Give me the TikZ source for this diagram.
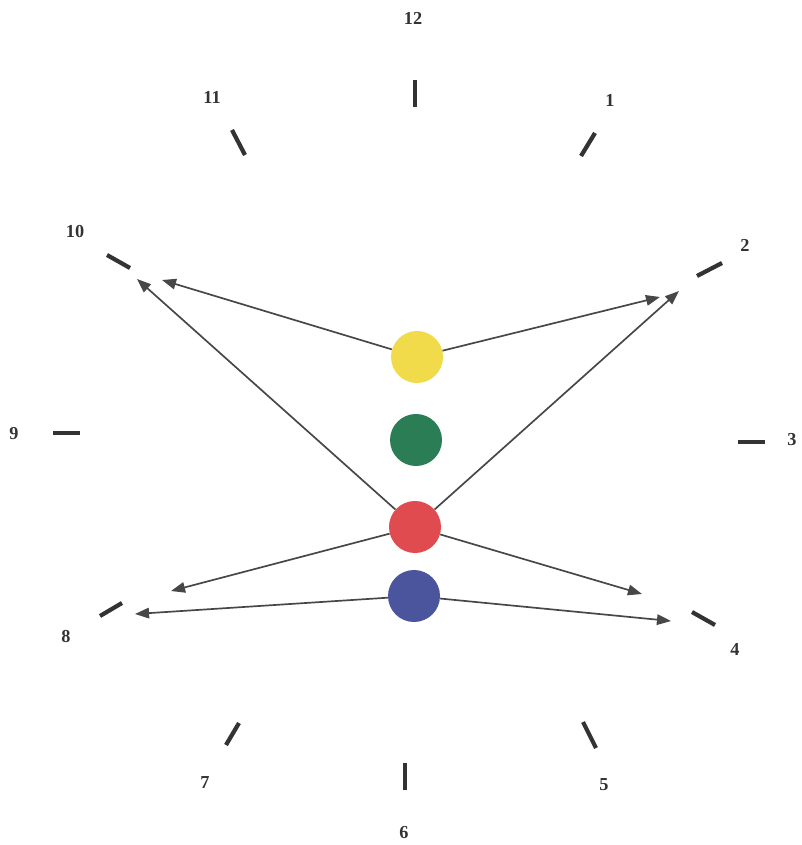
\documentclass[tikz,border=0pt]{standalone}
\usepackage{fontspec}
\setmainfont{Liberation Serif}
\usetikzlibrary{arrows.meta}
\definecolor{dial}{HTML}{333333}
\definecolor{ballyellow}{HTML}{F2DB4B}
\definecolor{ballgreen}{HTML}{2B7D56}
\definecolor{ballred}{HTML}{E04B50}
\definecolor{ballblue}{HTML}{4B559D}
\tikzset{
    hourtick/.style={line width=3pt, color=dial},
    hourlabel/.style={font=\bfseries\fontsize{13}{15}\selectfont, text=dial},
    ball/.style={circle, minimum size=1.3cm, inner sep=0pt},
    pointer/.style={-{Triangle[length=10pt,width=7.5pt]}, line width=1.2pt, color=dial!90},
}

\begin{document}
\begin{tikzpicture}[x=0.025cm, y=-0.025cm]
        \useasboundingbox (0,0) rectangle (801,845);

        % Hour ticks round the dial
        \foreach \xa/\ya/\xb/\yb in {415/80/415/107, 595/133/581/156, 722/263/697/276,
                                     738/442/765/442, 692/612/715/625, 583/722/596/748,
                                     405/763/405/790, 239/723/226/745, 122/603/100/616,
                                     53/433/80/433, 107/255/130/268, 232/130/245/155}
            \draw[hourtick] (\xa,\ya) -- (\xb,\yb);

        % Hour numbers
        \foreach \h/\x/\y in {12/413/18, 1/610/100, 2/745/245, 3/792/440,
                              4/735/649, 5/604/785, 6/404/833, 7/205/783,
                              8/66/637, 9/14/434, 10/75/232, 11/212/97}
            \node[hourlabel] (h\h) at (\x,\y) {\h};

        % Coloured balls
        \node[ball, fill=ballyellow] (yellow) at (417,357) {};
        \node[ball, fill=ballgreen] (green) at (416,440) {};
        \node[ball, fill=ballred] (red) at (415,527) {};
        \node[ball, fill=ballblue] (blue) at (414,596) {};

        % Arrow ends near the hour ticks
        \coordinate (y10) at (162,280);
        \coordinate (r10) at (137,279);
        \coordinate (y2) at (660,297);
        \coordinate (r2) at (679,291);
        \coordinate (r8) at (171,591);
        \coordinate (b8) at (135,614);
        \coordinate (r4) at (642,594);
        \coordinate (b4) at (671,621);

        \draw[pointer] (yellow) -- (y10);
        \draw[pointer] (yellow) -- (y2);
        \draw[pointer] (red) -- (r10);
        \draw[pointer] (red) -- (r2);
        \draw[pointer] (red) -- (r8);
        \draw[pointer] (red) -- (r4);
        \draw[pointer] (blue) -- (b8);
        \draw[pointer] (blue) -- (b4);
\end{tikzpicture}
\end{document}
